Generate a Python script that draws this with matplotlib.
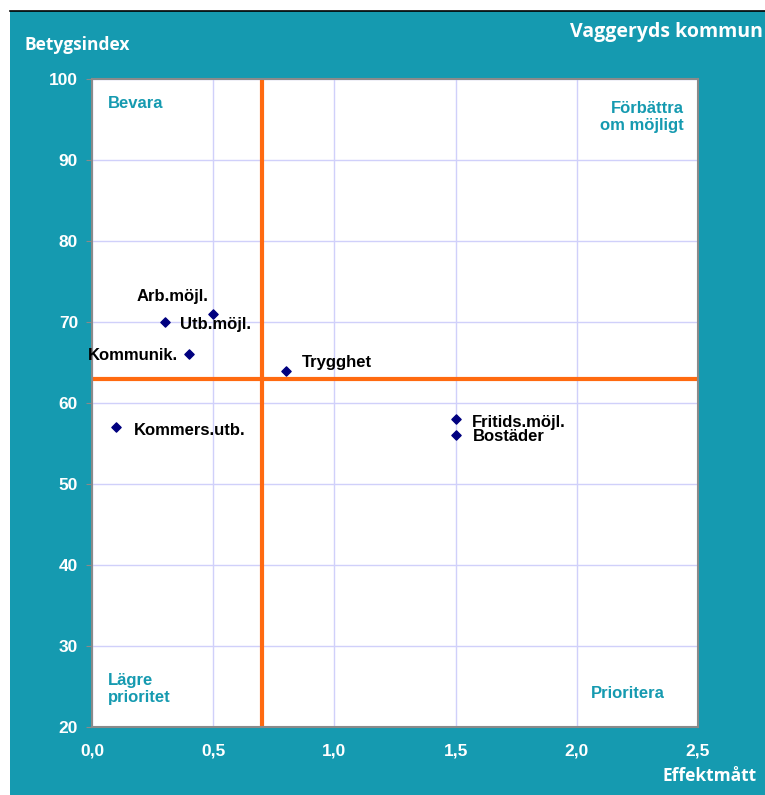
import numpy as np
import matplotlib
matplotlib.use('Agg')
import matplotlib.pyplot as plt
from matplotlib.patches import Rectangle
from matplotlib.lines import Line2D

# data
labels = ['Arb.möjl.', 'Utb.möjl.', 'Kommunik.', 'Trygghet',
          'Kommers.utb.', 'Fritids.möjl.', 'Bostäder']
effekt = [0.5, 0.3, 0.4, 0.8, 0.1, 1.5, 1.5]
betyg = [71, 70, 66, 64, 57, 58, 56]
# label offsets in pixels, alignment
offs = [(-41, 17, 'center'), (15, -2, 'left'), (-11, -1, 'right'), (16, 8, 'left'),
        (18, -3, 'left'), (16, -3, 'left'), (17, -1, 'left')]
xticks = [0.0, 0.5, 1.0, 1.5, 2.0, 2.5]
xticklabels = ['0,0', '0,5', '1,0', '1,5', '2,0', '2,5']
yticks = [20, 30, 40, 50, 60, 70, 80, 90, 100]
x_cut = 0.7
y_cut = 63

teal = '#159AB0'
W, H = 765, 795
fig = plt.figure(figsize=(7.65, 7.95), dpi=100, facecolor='white')
fig.patches.append(Rectangle((10 / W, 0), 1, 1 - 11 / H, transform=fig.transFigure,
                             facecolor=teal, edgecolor='none', zorder=-10))
fig.lines.append(Line2D([10 / W, 1], [1 - 11 / H, 1 - 11 / H], transform=fig.transFigure,
                        color='black', lw=1.2, zorder=-5))

ax = fig.add_axes([92 / W, 68 / H, (698 - 92) / W, (727 - 79) / H])
ax.set_facecolor('white')
ax.set_xlim(0, 2.5)
ax.set_ylim(20, 100)
ax.set_xticks(xticks)
ax.set_xticklabels(xticklabels)
ax.set_yticks(yticks)
ax.grid(True, color='#D0D0FA', lw=1)
ax.set_axisbelow(True)
for s in ax.spines.values():
    s.set_color('#8A8A8A')
    s.set_linewidth(1.5)
ax.tick_params(axis='x', length=0, pad=12, labelcolor='white', labelsize=12.5)
ax.tick_params(axis='y', length=4, color='#8A8A8A', pad=6, labelcolor='white', labelsize=12.5)
for t in ax.get_xticklabels() + ax.get_yticklabels():
    t.set_fontweight('bold')
    t.set_family('Liberation Sans')

ax.axvline(x_cut, color='#FF6A10', lw=3, zorder=2)
ax.axhline(y_cut, color='#FF6A10', lw=3, zorder=2)

ax.scatter(effekt, betyg, marker='D', s=22, color='#00007F', zorder=3)
for lab, x, y, (dx, dy, ha) in zip(labels, effekt, betyg, offs):
    ax.annotate(lab, (x, y), xytext=(dx, dy), textcoords='offset pixels',
                ha=ha, va='center', fontsize=12, fontweight='bold',
                family='Liberation Sans', color='black')

qkw = dict(transform=ax.transAxes, color=teal, fontsize=12, fontweight='bold',
           family='Liberation Sans', linespacing=1.15)
ax.text(16 / 606, 1 - 25 / 648, 'Bevara', ha='left', va='center', **qkw)
ax.text(1 - 14 / 606, 1 - 38 / 648, 'Förbättra\nom möjligt', ha='right', va='center', **qkw)
ax.text(16 / 606, 38 / 648, 'Lägre\nprioritet', ha='left', va='center', **qkw)
ax.text(1 - 33 / 606, 33 / 648, 'Prioritera', ha='right', va='center', **qkw)

fig.text(763 / W, 1 - 32 / H, 'Vaggeryds kommun', ha='right', va='center',
         color='white', fontsize=14, fontweight='bold', family='Open Sans')
fig.text(25 / W, 1 - 45 / H, 'Betygsindex', ha='left', va='center',
         color='white', fontsize=12.5, fontweight='bold', family='Open Sans')
fig.text(757 / W, 1 - 776 / H, 'Effektmått', ha='right', va='center',
         color='white', fontsize=12.5, fontweight='bold', family='Open Sans')

fig.savefig('out.png', dpi=100, facecolor=fig.get_facecolor())
